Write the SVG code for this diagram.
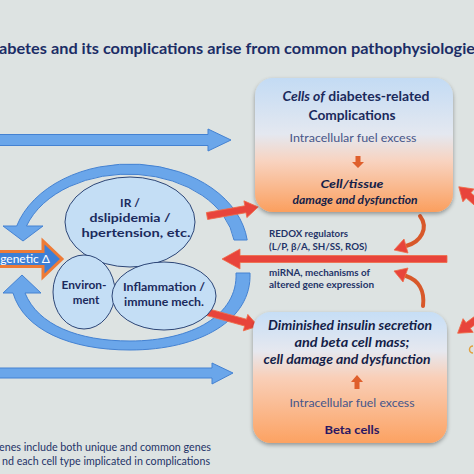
<svg xmlns="http://www.w3.org/2000/svg" width="474" height="474" viewBox="0 0 474 474">
<defs>
<linearGradient id="gTop" x1="0" y1="0" x2="0" y2="1">
<stop offset="0" stop-color="#c3dbf4"/>
<stop offset="0.42" stop-color="#e4e8f0"/>
<stop offset="0.62" stop-color="#f8d3c0"/>
<stop offset="1" stop-color="#fb9f5e"/>
</linearGradient>
<linearGradient id="gBot" x1="0" y1="0" x2="0" y2="1">
<stop offset="0" stop-color="#c6def6"/>
<stop offset="0.3" stop-color="#e6e8ef"/>
<stop offset="0.5" stop-color="#f9cfb8"/>
<stop offset="1" stop-color="#fca262"/>
</linearGradient>
<filter id="sh" x="-10%" y="-10%" width="120%" height="125%">
<feGaussianBlur in="SourceAlpha" stdDeviation="2"/>
<feOffset dx="0" dy="2"/>
<feComponentTransfer><feFuncA type="linear" slope="0.35"/></feComponentTransfer>
<feMerge><feMergeNode/><feMergeNode in="SourceGraphic"/></feMerge>
</filter>
</defs>
<style>
.t{font-family:Lato,"Open Sans","Liberation Sans",sans-serif;}
.b{font-weight:bold;fill:#1b2a5c;}
.bi{font-weight:bold;font-style:italic;fill:#141e48;}
.fuel{fill:#46568a;font-size:12px;}
.mid{font-weight:bold;fill:#1f3468;font-size:10px;}
.ell{fill:#c4def5;stroke:#2d4677;stroke-width:1;}
.blue{fill:#6aa6ea;stroke:#4482d2;stroke-width:1;}
.red{fill:#e8443b;stroke:#f06c48;stroke-width:0.8;}
.curve{fill:none;stroke:#d8582a;stroke-width:4;stroke-linecap:round;}
.head{fill:#e8443b;stroke:#f06c48;stroke-width:0.8;}
.small{fill:#df5f2c;}
</style>
<rect x="0" y="0" width="474" height="474" fill="#dde3e2"/>

<text class="t" x="-1" y="54" font-size="15" font-weight="bold" fill="#1b2d66" textLength="476" lengthAdjust="spacingAndGlyphs">abetes and its complications arise from common pathophysiologie</text>

<g id="connectors">
<path class="blue" d="M-5,134.5 L208,134.5 L208,129 L231,140 L208,151 L208,145.5 L-5,145.5 Z"/>
<path class="blue" d="M-5,368 L212,368 L212,363 L233,373 L212,384 L212,378 L-5,378 Z"/>
<path class="blue" d="M247.2,240 A118,86 0 0 0 16.7,226 L3,226 L23,241 L43,226 L26.5,226 A107,76 0 0 1 234,240 Z"/>
<path class="blue" d="M250,273 C252,320 200,350 130,350 C70,350 24,330 13,293 L3,293 L22,275 L41,293 L25,293 C38,325 78,341 130,341 C192,341 238,315 236,273 Z"/>
<path class="red" d="M447,255.5 L240,255.5 L240,249 L222,259 L240,269 L240,262.5 L447,262.5 Z"/>
<path class="red" transform="translate(207,216) rotate(-10)" d="M0,-3.5 L39,-3.5 L39,-8.5 L52,0 L39,8.5 L39,3.5 L0,3.5 Z"/>
<path class="red" transform="translate(207,312) rotate(15.4)" d="M0,-3.5 L40,-3.5 L40,-8.5 L53,0 L40,8.5 L40,3.5 L0,3.5 Z"/>
<path class="red" transform="translate(485,210) rotate(-138.5)" d="M0,-3.5 L22,-3.5 L22,-8.5 L35,0 L22,8.5 L22,3.5 L0,3.5 Z"/>
<path class="red" transform="translate(485,313) rotate(143.5)" d="M0,-3.5 L21,-3.5 L21,-8.5 L34,0 L21,8.5 L21,3.5 L0,3.5 Z"/>
<path class="curve" d="M420,216 C429,228 421,242 406,246"/>
<path class="head" d="M394,250 L404,239 L408,253 Z"/>
<path class="curve" d="M423,306 C425,290 418,280 406,276"/>
<path class="head" d="M394,271 L408,268 L403,282 Z"/>
<path d="M473,346 A3,3 0 1 0 473,353" fill="none" stroke="#e0a040" stroke-width="1.5"/>
</g>

<g id="genetic">
<path d="M-5,251.5 L43,251.5 L43,241 L62,259 L43,277 L43,266.5 L-5,266.5 Z" fill="#3d7fd6" stroke="#ee7b36" stroke-width="3"/>
<text class="t" x="50" y="263" font-size="12" fill="#ffffff" text-anchor="end">genetic Δ</text>
</g>

<g id="ir">
<ellipse class="ell" cx="130" cy="222" rx="65" ry="45"/>
<text class="t b" font-size="12" text-anchor="middle"><tspan x="130" y="207">IR /</tspan><tspan x="130" y="222" textLength="81" lengthAdjust="spacingAndGlyphs">dslipidemia /</tspan><tspan x="136" y="237" textLength="109" lengthAdjust="spacingAndGlyphs">hpertension, etc.</tspan></text>
</g>

<g id="environment">
<ellipse class="ell" cx="84" cy="292" rx="31" ry="37"/>
<text class="t b" font-size="11.5" text-anchor="middle"><tspan x="84" y="289" textLength="45" lengthAdjust="spacingAndGlyphs">Environ-</tspan><tspan x="86" y="304">ment</tspan></text>
</g>

<g id="inflammation">
<ellipse class="ell" cx="164" cy="296" rx="52" ry="34"/>
<text class="t b" font-size="11.5" text-anchor="middle"><tspan x="164" y="291" textLength="82" lengthAdjust="spacingAndGlyphs">Inflammation /</tspan><tspan x="164" y="306" textLength="80" lengthAdjust="spacingAndGlyphs">immune mech.</tspan></text>
</g>

<g id="complications">
<rect x="255" y="78" width="198" height="134" rx="18" fill="url(#gTop)" filter="url(#sh)"/>
<text class="t b" font-size="13" text-anchor="middle"><tspan x="356" y="101" textLength="147" lengthAdjust="spacingAndGlyphs"><tspan font-style="italic">Cells of</tspan> diabetes-related</tspan><tspan x="352" y="120" textLength="87" lengthAdjust="spacingAndGlyphs">Complications</tspan></text>
<text class="t fuel" x="353" y="142" text-anchor="middle" textLength="127" lengthAdjust="spacingAndGlyphs">Intracellular fuel excess</text>
<path class="small" d="M355.5,156 L360.5,156 L360.5,162 L364,162 L358,168 L352,162 L355.5,162 Z"/>
<text class="t bi" font-size="11.5" text-anchor="middle"><tspan x="352" y="188" textLength="63" lengthAdjust="spacingAndGlyphs">Cell/tissue</tspan><tspan x="355" y="204" textLength="125" lengthAdjust="spacingAndGlyphs">damage and dysfunction</tspan></text>
</g>

<g id="labels">
<text class="t mid"><tspan x="269" y="237" textLength="79" lengthAdjust="spacingAndGlyphs">REDOX regulators</tspan><tspan x="269" y="250" textLength="98" lengthAdjust="spacingAndGlyphs">(L/P, β/A, SH/SS, ROS)</tspan></text>
<text class="t mid"><tspan x="269" y="276" textLength="101" lengthAdjust="spacingAndGlyphs">miRNA, mechanisms of</tspan><tspan x="269" y="288" textLength="105" lengthAdjust="spacingAndGlyphs">altered gene expression</tspan></text>
</g>

<g id="betacells">
<rect x="253" y="312" width="194" height="131" rx="18" fill="url(#gBot)" filter="url(#sh)"/>
<text class="t bi" font-size="13" text-anchor="middle"><tspan x="350" y="330" textLength="164" lengthAdjust="spacingAndGlyphs">Diminished insulin secretion</tspan><tspan x="352" y="347" textLength="115" lengthAdjust="spacingAndGlyphs">and beta cell mass;</tspan><tspan x="347" y="364" textLength="167" lengthAdjust="spacingAndGlyphs">cell damage and dysfunction</tspan></text>
<path class="small" d="M354.5,389 L359.5,389 L359.5,382 L363,382 L357,375 L351,382 L354.5,382 Z"/>
<text class="t fuel" x="352" y="407" text-anchor="middle" textLength="125" lengthAdjust="spacingAndGlyphs">Intracellular fuel excess</text>
<text class="t" x="352" y="434" text-anchor="middle" font-size="12" font-weight="bold" fill="#2a1762" textLength="55" lengthAdjust="spacingAndGlyphs">Beta cells</text>
</g>

<g id="footnote">
<text class="t" font-size="10.5" fill="#1f3468"><tspan x="-1" y="451" textLength="212" lengthAdjust="spacingAndGlyphs">enes include both unique and common genes</tspan><tspan x="2" y="465" textLength="208" lengthAdjust="spacingAndGlyphs">nd each cell type implicated in complications</tspan></text>
</g>
</svg>
